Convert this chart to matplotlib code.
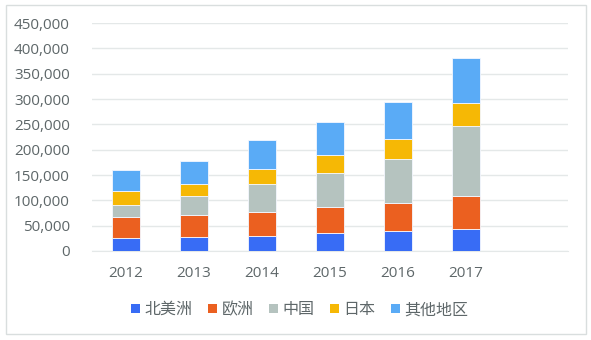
import matplotlib
matplotlib.use("Agg")
import matplotlib.pyplot as plt
from matplotlib.patches import Rectangle, Patch
from matplotlib.ticker import FuncFormatter
import numpy as np

plt.rcParams['font.family'] = ['Noto Sans CJK SC', 'DejaVu Sans']

years = ['2012', '2013', '2014', '2015', '2016', '2017']
series_names = ['北美洲', '欧洲', '中国', '日本', '其他地区']
north_america = [26000, 28000, 30000, 35500, 39000, 43000]
europe = [40500, 43000, 46000, 50700, 56000, 66000]
china = [24000, 37000, 56000, 67000, 87000, 138000]
japan = [28000, 25000, 29000, 36000, 39000, 45000]
others = [41000, 45000, 59000, 64500, 73000, 89500]
colors = ['#386CF5', '#EB6020', '#B5C3BF', '#F6B805', '#5AABF6']

text_color = '#5E6769'

fig = plt.figure(figsize=(5.91, 3.40), dpi=100)
ax = fig.add_axes([92/591, 1-251/340, 476/591, 228/340])

x = np.arange(len(years))
bottom = np.zeros(len(years))
handles = []
for vals, name, c in zip([north_america, europe, china, japan, others], series_names, colors):
    ax.bar(x, vals, width=0.40, bottom=bottom, color=c, edgecolor='#F4F7FF', linewidth=0.6, zorder=3)
    bottom += np.array(vals)
    handles.append(Patch(facecolor=c, edgecolor='none', label=name))

ax.set_xlim(-0.5, 6.5)
ax.set_ylim(0, 450000)
ax.set_yticks(np.arange(0, 450001, 50000))
ax.yaxis.set_major_formatter(FuncFormatter(lambda v, p: f'{int(v):,}'))
ax.set_xticks(x)
ax.set_xticklabels(years)
ax.grid(axis='y', color='#E4E8E8', linewidth=1.0, zorder=0)
for s in ['top', 'right', 'left']:
    ax.spines[s].set_visible(False)
ax.spines['bottom'].set_color('#E4E8E8')
ax.tick_params(axis='both', length=0, labelsize=11, colors=text_color)
for lbl in ax.get_xticklabels() + ax.get_yticklabels():
    lbl.set_fontfamily(['Open Sans', 'DejaVu Sans'])
ax.tick_params(axis='y', pad=16)
ax.tick_params(axis='x', pad=11)

fig.legend(handles=handles, loc='center', bbox_to_anchor=(0.507, 0.089), ncol=5,
           frameon=False, fontsize=11.5, handlelength=0.56, handleheight=0.56,
           handletextpad=0.3, columnspacing=0.95, labelcolor=text_color)

fig.patches.append(Rectangle((6/591, 1-334/340), 580/591, 329/340, transform=fig.transFigure,
                             fill=False, edgecolor='#D9DEDE', linewidth=1.0))

fig.savefig('out.png', dpi=100)
